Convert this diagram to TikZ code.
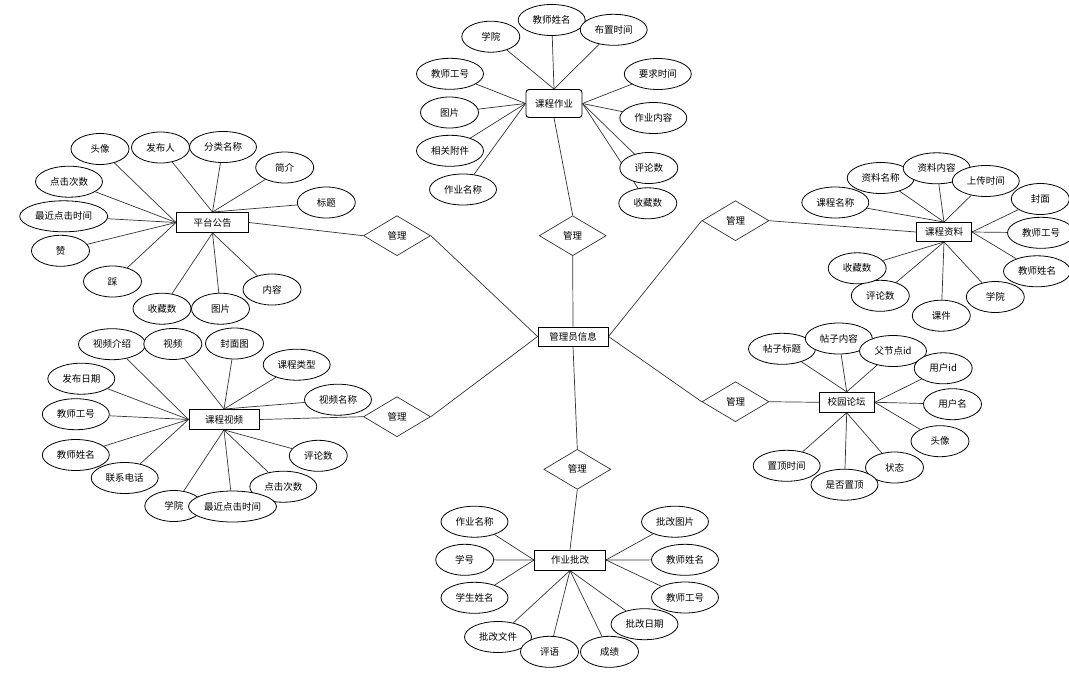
\documentclass[tikz,border=0pt]{standalone}
\usepackage{fontspec}
\setmainfont{Noto Sans CJK SC}
\usetikzlibrary{shapes.geometric,backgrounds}
\begin{document}
\begin{tikzpicture}[x=1pt,y=-1pt,
  every node/.style={font=\fontsize{9.5}{11}\selectfont, inner sep=0pt},
  conn/.style={draw=black!80, line width=0.7pt},
  attr/.style={ellipse, draw=black, line width=0.8pt, fill=white, minimum width=58pt, minimum height=31pt},
  attrw/.style={attr, minimum width=67pt},
  attrww/.style={attr, minimum width=88pt},
  ent/.style={rectangle, draw=black, line width=0.9pt, fill=white, minimum height=20pt},
  rel/.style={diamond, draw=black!80, line width=0.7pt, fill=white, minimum width=67pt, minimum height=40pt, aspect=1.7}
]
\path[use as bounding box] (0,0) rectangle (1069,681);

% entities
\node[ent, minimum width=70pt, minimum height=19pt] (admin) at (573,336.5) {管理员信息};
\node[ent, minimum width=72pt] (ptgg) at (212.5,222.5) {平台公告};
\node[ent, minimum width=70pt] (kcsp) at (224,419.5) {课程视频};
\node[ent, minimum width=56pt, minimum height=28pt, rounded corners=3pt] (kczy) at (554,103.5) {课程作业};
\node[ent, minimum width=55pt, minimum height=19pt] (kczl) at (944,232) {课程资料};
\node[ent, minimum width=55pt] (xylt) at (846.7,402.3) {校园论坛};
\node[ent, minimum width=71pt] (zypg) at (570,560) {作业批改};

% relations
\node[rel] (r1) at (572.7,235.7) {管理};
\node[rel] (r2) at (397,235.7) {管理};
\node[rel] (r3) at (397,416.7) {管理};
\node[rel] (r4) at (735.5,220.7) {管理};
\node[rel] (r5) at (735.5,401.7) {管理};
\node[rel] (r6) at (577.3,469.3) {管理};

% ---------- 平台公告 ----------
\node[attr] (p1) at (100,149) {头像};
\node[attr] (p2) at (160.5,147.5) {发布人};
\node[attrw] (p3) at (223,147) {分类名称};
\node[attr] (p4) at (284.7,167.5) {简介};
\node[attr] (p5) at (326.3,202.5) {标题};
\node[attrw] (p6) at (69,181.7) {点击次数};
\node[attrww] (p7) at (63.7,216.3) {最近点击时间};
\node[attr] (p8) at (60.5,250.8) {赞};
\node[attr] (p9) at (112.5,281.5) {踩};
\node[attr] (p10) at (162,308.7) {收藏数};
\node[attr] (p11) at (220.5,308.7) {图片};
\node[attr] (p12) at (272,289.5) {内容};

% ---------- 课程视频 ----------
\node[attrw] (v1) at (112,344.2) {视频介绍};
\node[attr] (v2) at (172.8,344) {视频};
\node[attr] (v3) at (234.5,343.5) {封面图};
\node[attrw] (v4) at (296.7,364.7) {课程类型};
\node[attrw] (v5) at (338,399.7) {视频名称};
\node[attrw] (v6) at (81.3,378.7) {发布日期};
\node[attrw] (v7) at (75.8,414.2) {教师工号};
\node[attrw] (v8) at (75.8,455) {教师姓名};
\node[attrw] (v9) at (124.7,478) {联系电话};
\node[attr] (v10) at (173.8,506) {学院};
\node[attrw] (v12) at (283.3,486.7) {点击次数};
\node[attrww] (v11) at (232.5,506.5) {最近点击时间};
\node[attr] (v13) at (318.3,455.8) {评论数};

% ---------- 课程作业 ----------
\node[attr] (w1) at (490.8,36.7) {学院};
\node[attrw] (w2) at (551.7,20) {教师姓名};
\node[attrw] (w3) at (613.7,29.8) {布置时间};
\node[attrw] (w4) at (657.8,74) {要求时间};
\node[attrw] (w5) at (653.3,118) {作业内容};
\node[attr] (w6) at (648.8,168) {评论数};
\node[attr] (w7) at (647.8,203.3) {收藏数};
\node[attrw] (w8) at (450,73.8) {教师工号};
\node[attr] (w9) at (449.5,112.5) {图片};
\node[attrw] (w10) at (450,150.8) {相关附件};
\node[attrw] (w11) at (463,189.5) {作业名称};

% ---------- 课程资料 ----------
\node[attrw] (m1) at (880.7,178) {资料名称};
\node[attrw] (m2) at (936.7,168.3) {资料内容};
\node[attrw] (m3) at (985.8,181) {上传时间};
\node[attr] (m4) at (1040.3,199) {封面};
\node[attrw] (m5) at (1041,232.8) {教师工号};
\node[attrw] (m6) at (1037,271.3) {教师姓名};
\node[attr] (m7) at (995.3,297) {学院};
\node[attr] (m8) at (941.3,315.7) {课件};
\node[attr] (m9) at (880.3,295.8) {评论数};
\node[attr] (m10) at (857.2,268.3) {收藏数};
\node[attrw] (m11) at (835.3,202.5) {课程名称};

% ---------- 校园论坛 ----------
\node[attrw] (f1) at (782,348.8) {帖子标题};
\node[attrw] (f2) at (838.8,338.5) {帖子内容};
\node[attrw] (f3) at (893,351) {父节点id};
\node[attr] (f4) at (943.2,368.3) {用户id};
\node[attr] (f5) at (952.5,404.2) {用户名};
\node[attr] (f6) at (940,441.2) {头像};
\node[attr] (f7) at (894.5,467.5) {状态};
\node[attrw] (f9) at (786.7,465.8) {置顶时间};
\node[attrw] (f8) at (844.5,484.7) {是否置顶};

% ---------- 作业批改 ----------
\node[attrw] (g1) at (474.5,521.7) {作业名称};
\node[attr] (g2) at (464.7,559.8) {学号};
\node[attrw] (g3) at (474.5,597.8) {学生姓名};
\node[attrw] (g4) at (498,637) {批改文件};
\node[attr] (g5) at (549.5,651.8) {评语};
\node[attr] (g6) at (609.5,651.8) {成绩};
\node[attrw] (g7) at (644.5,624.2) {批改日期};
\node[attrw] (g8) at (685,597.5) {教师工号};
\node[attrw] (g9) at (685,559.8) {教师姓名};
\node[attrw] (g10) at (675,521.7) {批改图片};

\begin{pgfonlayer}{background}
\draw[conn] (admin.north) -- (r1.south);
\draw[conn] (admin.west) -- (r2.east);
\draw[conn] (admin.west) -- (r3.east);
\draw[conn] (admin.east) -- (r4.west);
\draw[conn] (admin.east) -- (r5.west);
\draw[conn] (admin.south) -- (r6.north);
\draw[conn] (r1.north) -- (kczy.south);
\draw[conn] (r2.west) -- (ptgg.east);
\draw[conn] (r3.west) -- (kcsp.east);
\draw[conn] (r4.east) -- (kczl.west);
\draw[conn] (r5.east) -- (xylt.west);
\draw[conn] (r6.south) -- (zypg.north);
\foreach \a in {p1,p6,p7,p8,p9} \draw[conn] (\a) -- (ptgg.west);
\foreach \a in {p2,p3,p4,p5} \draw[conn] (\a) -- (ptgg.north);
\foreach \a in {p10,p11,p12} \draw[conn] (\a) -- (ptgg.south);
\foreach \a in {v1,v6,v7,v8,v9} \draw[conn] (\a) -- (kcsp.west);
\foreach \a in {v2,v3,v4,v5} \draw[conn] (\a) -- (kcsp.north);
\foreach \a in {v10,v11,v12,v13} \draw[conn] (\a) -- (kcsp.south);
\foreach \a in {w1,w2,w3} \draw[conn] (\a) -- (kczy.north);
\foreach \a in {w4,w5,w6,w7} \draw[conn] (\a) -- (kczy.east);
\foreach \a in {w8,w9,w10,w11} \draw[conn] (\a) -- (kczy.west);
\foreach \a in {m1,m2,m3,m11} \draw[conn] (\a) -- (kczl.north);
\foreach \a in {m4,m5,m6} \draw[conn] (\a) -- (kczl.east);
\foreach \a in {m7,m8,m9,m10} \draw[conn] (\a) -- (kczl.south);
\foreach \a in {f1,f2,f3} \draw[conn] (\a) -- (xylt.north);
\foreach \a in {f4,f5,f6} \draw[conn] (\a) -- (xylt.east);
\foreach \a in {f7,f8,f9} \draw[conn] (\a) -- (xylt.south);
\foreach \a in {g1,g2,g3} \draw[conn] (\a) -- (zypg.west);
\foreach \a in {g4,g5,g6,g7} \draw[conn] (\a) -- (zypg.south);
\foreach \a in {g8,g9,g10} \draw[conn] (\a) -- (zypg.east);
\end{pgfonlayer}
\end{tikzpicture}
\end{document}
